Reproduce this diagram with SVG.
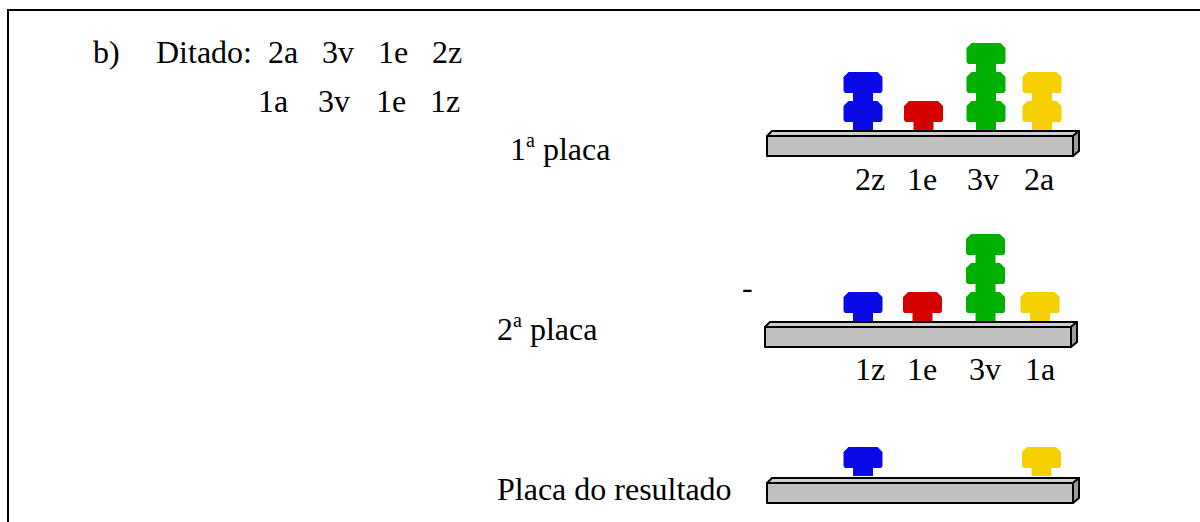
<svg xmlns="http://www.w3.org/2000/svg" width="1200" height="522" viewBox="0 0 1200 522">
  <style>
    text { font-family: "Liberation Serif", "Times New Roman", serif; font-size: 32px; fill: #000; }
    .frame { stroke: #000; stroke-width: 2; fill: none; }
    .bar { stroke: #000; stroke-width: 2; stroke-linejoin: round; }
    .front { fill: #C0C0C0; }
    .top { fill: #CFCFCF; }
    .side { fill: #9C9C9C; }
    .blue { fill: #0A0AE6; }
    .red { fill: #D50000; }
    .green { fill: #00B000; }
    .yellow { fill: #F6D000; }
  </style>
  <defs>
    <!-- one peg: wide bevelled cap on a narrow stem, centred on x=0, top at y=0 -->
    <path id="peg" d="M -14.5 0 H 14.5 L 19.5 5 V 19 L 18 21 H 10 V 29 H -10 V 21 H -18 L -19.5 19 V 5 Z"/>
    <!-- one plate in 3D: front face, top face, right end -->
    <g id="plate">
      <polygon class="bar top" points="0,5 5,0 312,0 306,5"/>
      <polygon class="bar side" points="306,5 312,0 312,20 306,25"/>
      <rect class="bar front" x="0" y="5" width="306" height="20"/>
    </g>
  </defs>

  <!-- frame -->
  <g id="frame">
    <polyline class="frame" points="8,522 8,10 1200,10"/>
  </g>

  <!-- dictation -->
  <g id="dictation">
    <text x="93" y="63">b)</text>
    <text x="156" y="63">Ditado:</text>
    <text x="268" y="63">2a</text>
    <text x="322" y="63">3v</text>
    <text x="378" y="63">1e</text>
    <text x="432" y="63">2z</text>
    <text x="258" y="112">1a</text>
    <text x="318" y="112">3v</text>
    <text x="376" y="112">1e</text>
    <text x="430" y="112">1z</text>
  </g>

  <!-- first plate -->
  <g id="plate1">
    <text x="510" y="160">1<tspan font-size="20" dy="-13">a</tspan><tspan dy="13"> placa</tspan></text>
    <use href="#plate" x="767" y="131"/>
    <use href="#peg" class="blue" x="863" y="72"/>
    <use href="#peg" class="blue" x="863" y="101"/>
    <use href="#peg" class="red" x="923.5" y="101"/>
    <use href="#peg" class="green" x="986" y="43"/>
    <use href="#peg" class="green" x="986" y="72"/>
    <use href="#peg" class="green" x="986" y="101"/>
    <use href="#peg" class="yellow" x="1042" y="72"/>
    <use href="#peg" class="yellow" x="1042" y="101"/>
    <text x="855" y="190">2z</text>
    <text x="907" y="190">1e</text>
    <text x="967" y="190">3v</text>
    <text x="1024" y="190">2a</text>
  </g>

  <!-- second plate -->
  <g id="plate2">
    <text x="742" y="298">-</text>
    <text x="497" y="340">2<tspan font-size="20" dy="-13">a</tspan><tspan dy="13"> placa</tspan></text>
    <use href="#plate" x="765" y="322"/>
    <use href="#peg" class="blue" x="863" y="292"/>
    <use href="#peg" class="red" x="922.5" y="292"/>
    <use href="#peg" class="green" x="985.5" y="234"/>
    <use href="#peg" class="green" x="985.5" y="263"/>
    <use href="#peg" class="green" x="985.5" y="292"/>
    <use href="#peg" class="yellow" x="1040" y="292"/>
    <text x="855" y="380">1z</text>
    <text x="907" y="380">1e</text>
    <text x="969" y="380">3v</text>
    <text x="1025" y="380">1a</text>
  </g>

  <!-- result plate -->
  <g id="plate3">
    <text x="497" y="500">Placa do resultado</text>
    <use href="#plate" x="767" y="478"/>
    <use href="#peg" class="blue" x="863" y="447"/>
    <use href="#peg" class="yellow" x="1041.5" y="447"/>
  </g>
</svg>
